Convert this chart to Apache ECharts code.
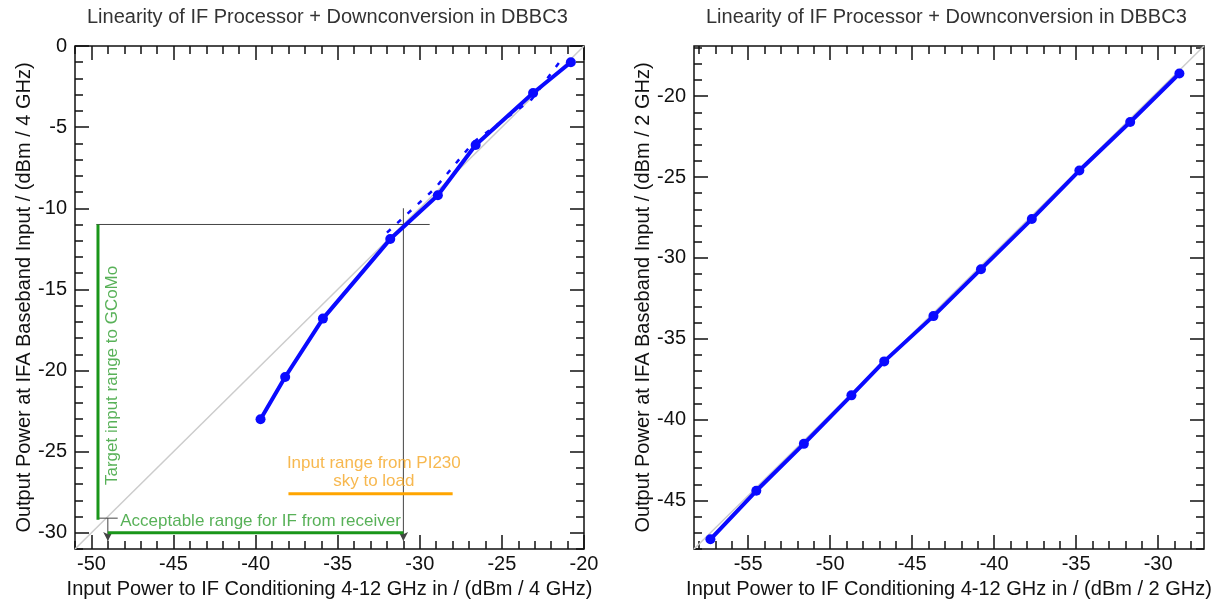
<!DOCTYPE html>
<html><head><meta charset="utf-8">
<script src="https://cdn.jsdelivr.net/npm/echarts@6/dist/echarts.min.js"></script>
<style>html,body{margin:0;padding:0;background:#fff}#c{width:1227px;height:604px}</style>
</head><body><div id="c"></div>
<script>
// ---------- text ----------
const titleText = 'Linearity of IF Processor + Downconversion in DBBC3';
const leftXName = 'Input Power to IF Conditioning 4-12 GHz in / (dBm / 4 GHz)';
const leftYName = 'Output Power at IFA Baseband Input / (dBm / 4 GHz)';
const rightXName = 'Input Power to IF Conditioning 4-12 GHz in / (dBm / 2 GHz)';
const rightYName = 'Output Power at IFA Baseband Input / (dBm / 2 GHz)';

// ---------- tick labels ----------
const leftXTicks = [-50, -45, -40, -35, -30, -25, -20];
const leftYTicks = [0, -5, -10, -15, -20, -25, -30];
const rightXTicks = [-55, -50, -45, -40, -35, -30];
const rightYTicks = [-20, -25, -30, -35, -40, -45];

// ---------- data: left panel (4 GHz band) ----------
const leftIn = [-39.7, -38.2, -35.9, -31.8, -28.9, -26.6, -23.1, -20.8];
const leftOut = [-23.0, -20.4, -16.8, -11.9, -9.2, -6.1, -2.9, -1.0];
const leftAltIn = [-32.0, -29.1, -26.7, -23.2, -21.2];
const leftAltOut = [-11.5, -8.8, -5.9, -3.3, -0.6];

// ---------- data: right panel (2 GHz band) ----------
const rightIn = [-57.3, -54.5, -51.6, -48.7, -46.7, -43.7, -40.8, -37.7, -34.8, -31.7, -28.7];
const rightOut = [-47.4, -44.4, -41.5, -38.5, -36.4, -33.6, -30.7, -27.6, -24.6, -21.6, -18.6];

// ---------- annotations (data coordinates, left panel) ----------
const targetRange = [[-49.6, -11], [-49.6, -29.2]];
const acceptRange = [[-49, -30], [-31, -30]];
const pi230Range = [[-38, -27.6], [-28, -27.6]];
const guideH = [[-49.7, -11], [-29.4, -11]];
const guideV = [[-31, -10], [-31, -30.5]];
const guideV2 = [[-49, -29.1], [-49, -30.5]];
const guideSmallH = [[-49.6, -29.1], [-48.4, -29.1]];
const targetLabelPos = [-48.75, -20.3];
const acceptLabelPos = [-39.7, -29.3];
const pi230LabelPos = [-32.8, -26.3];

// axis ranges
const L = {xMin: -51, xMax: -20, yMin: -31, yMax: 0};
const R = {xMin: -58.3, xMax: -27.2, yMin: -48.0, yMax: -16.9};

function ints(a, b) { const r = []; for (let v = Math.ceil(a); v <= Math.floor(b); v++) r.push(v); return r; }
function pairs(xs, ys) { return xs.map((x, i) => [x, ys[i]]); }

const FONT = 'Liberation Sans, Arial, Helvetica, sans-serif';
const BLUE = '#0a0aff';

function mkAxes(grid, pos, min, max, majors, name, nameGap, labelMargin) {
  const showLabel = pos === 'bottom' || pos === 'left';
  const base = {
    type: 'value', gridIndex: grid, position: pos, min: min, max: max,
    axisLine: {show: false, onZero: false}, splitLine: {show: false},
  };
  const major = Object.assign({}, base, {
    axisTick: {show: true, inside: true, length: 14, lineStyle: {color: '#111', width: 1.5}, customValues: majors},
    axisLabel: {show: showLabel, customValues: majors, color: '#111', fontSize: 20, fontFamily: FONT, margin: labelMargin},
  });
  if (name) {
    Object.assign(major, {
      name: name, nameLocation: 'middle', nameGap: nameGap,
      nameTextStyle: {color: '#111', fontSize: 20, fontFamily: FONT}
    });
  }
  const minor = Object.assign({}, base, {
    axisTick: {show: true, inside: true, length: 8, lineStyle: {color: '#111', width: 1.5}, customValues: ints(min, max)},
    axisLabel: {show: false},
  });
  return [major, minor];
}

const xAxes = [].concat(
  mkAxes(0, 'bottom', L.xMin, L.xMax, leftXTicks, leftXName, 30, 5),
  mkAxes(0, 'top', L.xMin, L.xMax, leftXTicks),
  mkAxes(1, 'bottom', R.xMin, R.xMax, rightXTicks, rightXName, 30, 5),
  mkAxes(1, 'top', R.xMin, R.xMax, rightXTicks)
);
const yAxes = [].concat(
  mkAxes(0, 'left', L.yMin, L.yMax, leftYTicks, leftYName, 40, 8),
  mkAxes(0, 'right', L.yMin, L.yMax, leftYTicks),
  mkAxes(1, 'left', R.yMin, R.yMax, rightYTicks, rightYName, 41, 8),
  mkAxes(1, 'right', R.yMin, R.yMax, rightYTicks)
);

function segLine(data, color, width, xi, yi, extra) {
  return Object.assign({
    type: 'line', xAxisIndex: xi, yAxisIndex: yi, data: data, symbol: 'none', silent: true,
    lineStyle: {color: color, width: width}, z: 3, animation: false
  }, extra || {});
}
function arrowLine(data, color, width) {
  const d = [
    {value: data[0], symbol: 'none'},
    {value: data[1], symbol: 'arrow', symbolSize: [7, 9], symbolRotate: 180, itemStyle: {color: color}}
  ];
  return {
    type: 'line', xAxisIndex: 0, yAxisIndex: 0, data: d, showSymbol: true, silent: true,
    lineStyle: {color: color, width: width}, z: 3, animation: false, clip: false
  };
}
function textMark(pos, text, color, rotate) {
  return {
    type: 'scatter', xAxisIndex: 0, yAxisIndex: 0, silent: true, symbolSize: 1,
    itemStyle: {color: 'rgba(0,0,0,0)'}, z: 6, animation: false,
    data: [{value: pos}],
    label: {
      show: true, position: 'inside', formatter: text, color: color, fontSize: 17,
      fontFamily: FONT, rotate: rotate || 0, lineHeight: 18, align: 'center', verticalAlign: 'middle'
    }
  };
}

const option = {
  animation: false,
  backgroundColor: '#fff',
  graphic: [
    {type: 'text', left: 330 - 243, top: 7, style: {text: titleText, fill: '#333', font: '20px ' + FONT}},
    {type: 'text', left: 949 - 243, top: 7, style: {text: titleText, fill: '#333', font: '20px ' + FONT}}
  ],
  grid: [
    {left: 75, right: 643, top: 46, bottom: 51, show: true, borderColor: '#111', borderWidth: 1.5},
    {left: 694, right: 23, top: 46, bottom: 51, show: true, borderColor: '#111', borderWidth: 1.5}
  ],
  xAxis: xAxes,
  yAxis: yAxes,
  series: [
    segLine([[L.xMin, L.yMin], [L.xMax, L.yMax]], '#cccccc', 1.5, 0, 0, {z: 2}),
    segLine([[R.xMin, R.yMin], [R.xMax, R.yMax]], '#cccccc', 1.5, 4, 4, {z: 2}),
    segLine(guideH, '#444', 1, 0, 0),
    segLine(guideSmallH, '#444', 1, 0, 0),
    arrowLine(guideV, '#444', 1),
    arrowLine(guideV2, '#444', 1),
    segLine(targetRange, '#1a961a', 3, 0, 0, {z: 4}),
    segLine(acceptRange, '#1a961a', 3, 0, 0, {z: 4}),
    segLine(pi230Range, '#ffa500', 3, 0, 0, {z: 4}),
    {
      type: 'line', xAxisIndex: 0, yAxisIndex: 0, data: pairs(leftAltIn, leftAltOut),
      symbol: 'none', lineStyle: {color: BLUE, width: 2.5, type: [5, 9]}, z: 5, animation: false
    },
    {
      type: 'line', xAxisIndex: 0, yAxisIndex: 0, data: pairs(leftIn, leftOut),
      symbol: 'circle', symbolSize: 10, itemStyle: {color: BLUE},
      lineStyle: {color: BLUE, width: 4}, z: 5, animation: false
    },
    {
      type: 'line', xAxisIndex: 4, yAxisIndex: 4, data: pairs(rightIn, rightOut),
      symbol: 'circle', symbolSize: 10, itemStyle: {color: BLUE},
      lineStyle: {color: BLUE, width: 4}, z: 5, animation: false
    },
    textMark(targetLabelPos, 'Target input range to GCoMo', '#2e9e2e', 90),
    textMark(acceptLabelPos, 'Acceptable range for IF from receiver', '#2e9e2e', 0),
    textMark(pi230LabelPos, 'Input range from PI230\nsky to load', '#f5a623', 0)
  ]
};

const chart = echarts.init(document.getElementById('c'), null, {renderer: 'canvas'});
chart.setOption(option);
</script>
</body></html>
